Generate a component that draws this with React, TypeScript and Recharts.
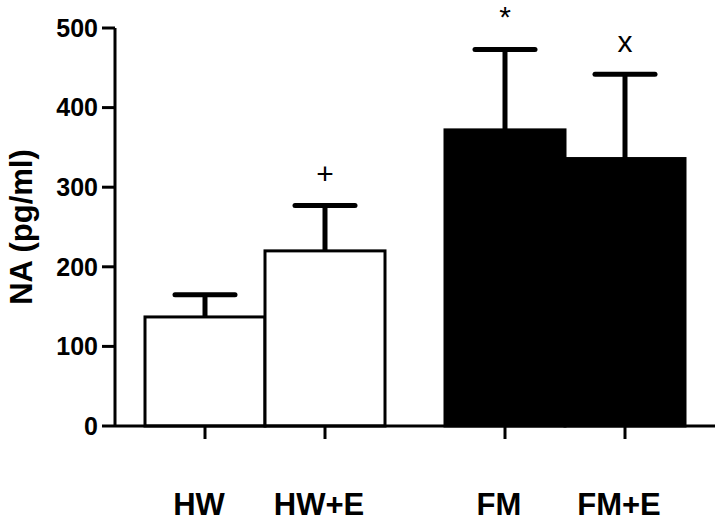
import { BarChart, Bar, XAxis, YAxis } from "recharts";

const groups = ["HW", "HW+E", "FM", "FM+E"];
const means = [137, 220, 372, 336];
const sems = [28, 57, 101, 106];
const marks = ["", "+", "*", "x"];
const yTicks = [0, 100, 200, 300, 400, 500];

// where each group sits on the x axis (the FM pair is pushed right)
const slots = [1, 2, 3.5, 4.5];
const fills = ["#ffffff", "#ffffff", "#000000", "#000000"];

const data = groups.map((g, i) => ({
  group: g,
  pos: slots[i],
  mean: means[i],
  sem: sems[i],
  mark: marks[i],
  fill: fills[i],
}));

const FONT = "'Liberation Sans', Arial, Helvetica, sans-serif";
const BAR_W = 120; // neighbouring bars touch

function BarWithError(props: any) {
  const { x, y, width, height, payload } = props;
  const perUnit = height / payload.mean;
  const cx = x + width / 2;
  const capY = y - payload.sem * perUnit;
  return (
    <g>
      <rect x={cx - BAR_W / 2} y={y} width={BAR_W} height={height} fill={payload.fill} stroke="#000" strokeWidth={3} />
      <line x1={cx} y1={y} x2={cx} y2={capY} stroke="#000" strokeWidth={5} />
      <line x1={cx - 30} y1={capY} x2={cx + 30} y2={capY} stroke="#000" strokeWidth={5} strokeLinecap="round" />
      {payload.mark && (
        <text x={cx} y={capY - 22} textAnchor="middle" fontSize={30} fontFamily={FONT} fill="#000">
          {payload.mark}
        </text>
      )}
    </g>
  );
}

function GroupTick(props: any) {
  const { x, y, payload } = props;
  const i = slots.indexOf(payload.value);
  return (
    <text x={x - 6} y={y + 76} textAnchor="middle" fontSize={31} fontWeight="bold" fontFamily={FONT} fill="#000">
      {groups[i]}
    </text>
  );
}

function YLabel(props: any) {
  const { viewBox } = props;
  const cy = viewBox.y + viewBox.height / 2;
  return (
    <text
      x={21}
      y={cy}
      transform={`rotate(-90, 21, ${cy})`}
      textAnchor="middle"
      dominantBaseline="central"
      fontSize={31}
      fontWeight="bold"
      fontFamily={FONT}
      fill="#000"
    >
      NA (pg/ml)
    </text>
  );
}

export default function App() {
  return (
    <div style={{ position: "absolute", left: 0, top: 0, background: "#fff" }}>
      <BarChart
        width={726}
        height={525}
        data={data}
        margin={{ top: 28, right: 11, bottom: 0, left: 0 }}
        barCategoryGap={0}
        barGap={0}
        style={{ fontFamily: FONT }}
      >
        <XAxis
          dataKey="pos"
          type="number"
          domain={[0.25, 5.25]}
          ticks={slots}
          interval={0}
          height={99}
          tickSize={13}
          tickMargin={0}
          axisLine={{ stroke: "#000", strokeWidth: 3 }}
          tickLine={{ stroke: "#000", strokeWidth: 3 }}
          tick={<GroupTick />}
        />
        <YAxis
          type="number"
          domain={[0, 500]}
          ticks={yTicks}
          width={115}
          tickSize={13}
          tickMargin={4}
          axisLine={{ stroke: "#000", strokeWidth: 3 }}
          tickLine={{ stroke: "#000", strokeWidth: 3 }}
          tick={{ fontSize: 25, fontWeight: "bold", fill: "#000", fontFamily: FONT }}
          label={<YLabel />}
        />
        <Bar dataKey="mean" barSize={BAR_W} shape={<BarWithError />} isAnimationActive={false} />
      </BarChart>
    </div>
  );
}
